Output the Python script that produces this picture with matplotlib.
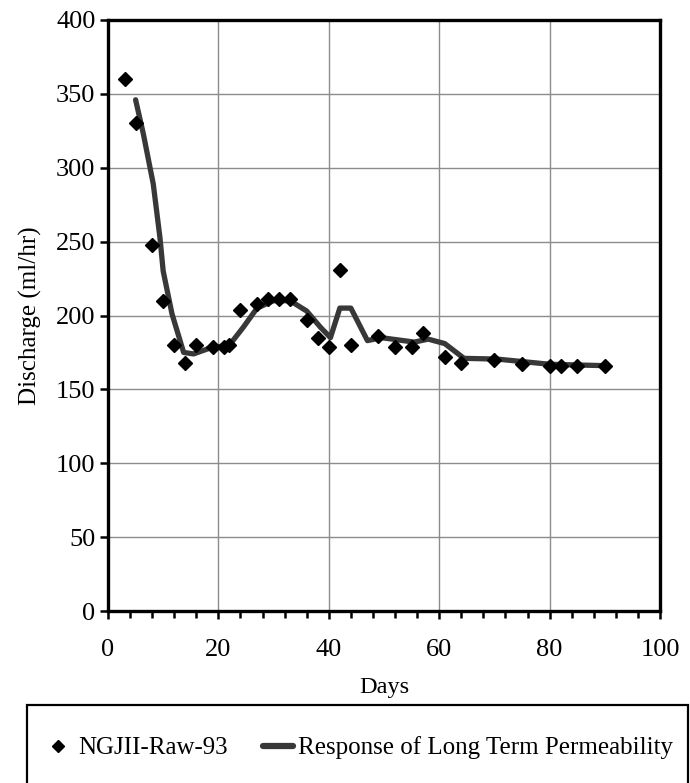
import matplotlib
matplotlib.use("Agg")
import matplotlib.pyplot as plt
from matplotlib.ticker import MultipleLocator
from matplotlib.patches import Rectangle

plt.rcParams['font.family'] = ['Liberation Serif', 'DejaVu Serif']

# Raw data (NGJII-Raw-93)
raw_days = [3, 5, 8, 10, 12, 14, 16, 19, 21, 22, 24, 27, 29, 31, 33, 36, 38, 40, 42, 44,
            49, 52, 55, 57, 61, 64, 70, 75, 80, 82, 85, 90]
raw_discharge = [360, 330, 248, 210, 180, 168, 180, 179, 179, 180, 204, 208, 211, 211, 211, 197, 185, 179, 231, 180,
                 186, 179, 179, 188, 172, 168, 170, 167, 166, 166, 166, 166]

# Model response curve
model_days = [5, 6.4, 8.2, 9.4, 10, 11.6, 13.7, 15.5, 18.5, 22, 24.5, 27, 30, 33, 36, 38.5, 40.3,
              42, 44, 47, 49.5, 55.5, 58, 61, 64.5, 70.5, 80, 90.5]
model_discharge = [346, 323, 289, 253, 230, 201, 175, 174, 178, 180, 192, 205, 210, 210, 203, 192, 185,
                   205, 205, 183, 185, 182, 184, 181, 171, 170.5, 167, 166]

W, H = 690, 783
fig = plt.figure(figsize=(W/100, H/100), dpi=100)
ax = fig.add_axes([108/W, 1-611/H, 552/W, 591/H])

ax.plot(model_days, model_discharge, color='#383838', lw=3.8, solid_joinstyle='round',
        solid_capstyle='round', label='Response of Long Term Permeability', zorder=3)
ax.plot(raw_days, raw_discharge, ls='none', marker='D', color='black', markersize=7,
        label='NGJII-Raw-93', zorder=4)

ax.set_xlim(0, 100)
ax.set_ylim(0, 400)
ax.xaxis.set_major_locator(MultipleLocator(20))
ax.xaxis.set_minor_locator(MultipleLocator(4))
ax.yaxis.set_major_locator(MultipleLocator(50))
ax.grid(True, which='major', color='#8c8c8c', lw=1.0)
ax.set_axisbelow(True)
for s in ax.spines.values():
    s.set_linewidth(2.4)
    s.set_color('black')
ax.tick_params(axis='both', which='major', direction='out', length=6, width=1.8,
               labelsize=19, pad=3)
ax.tick_params(axis='x', which='minor', direction='out', length=5, width=1.8)
ax.tick_params(axis='x', which='major', pad=14)

ax.set_xlabel('Days', fontsize=17.5, labelpad=12)
ax.set_ylabel('Discharge (ml/hr)', fontsize=18, labelpad=10)

# legend box
fig.patches.append(Rectangle((27/W, -10/H), (688-27)/W, (1-705/H) + 10/H,
                             transform=fig.transFigure, fill=False, edgecolor='black',
                             lw=1.6, clip_on=False))

h, l = ax.get_legend_handles_labels()
leg = fig.legend([h[1], h[0]], [l[1], l[0]], ncol=2, loc='center',
                 bbox_to_anchor=(358/W, 1-748/H), fontsize=18, frameon=False,
                 handlelength=1.2, handletextpad=0.2, columnspacing=1.4,
                 borderpad=0.0, markerscale=0.9)
for lh in leg.legend_handles:
    try:
        lh.set_linewidth(4.5)
    except Exception:
        pass

fig.savefig('out.png', dpi=100)
